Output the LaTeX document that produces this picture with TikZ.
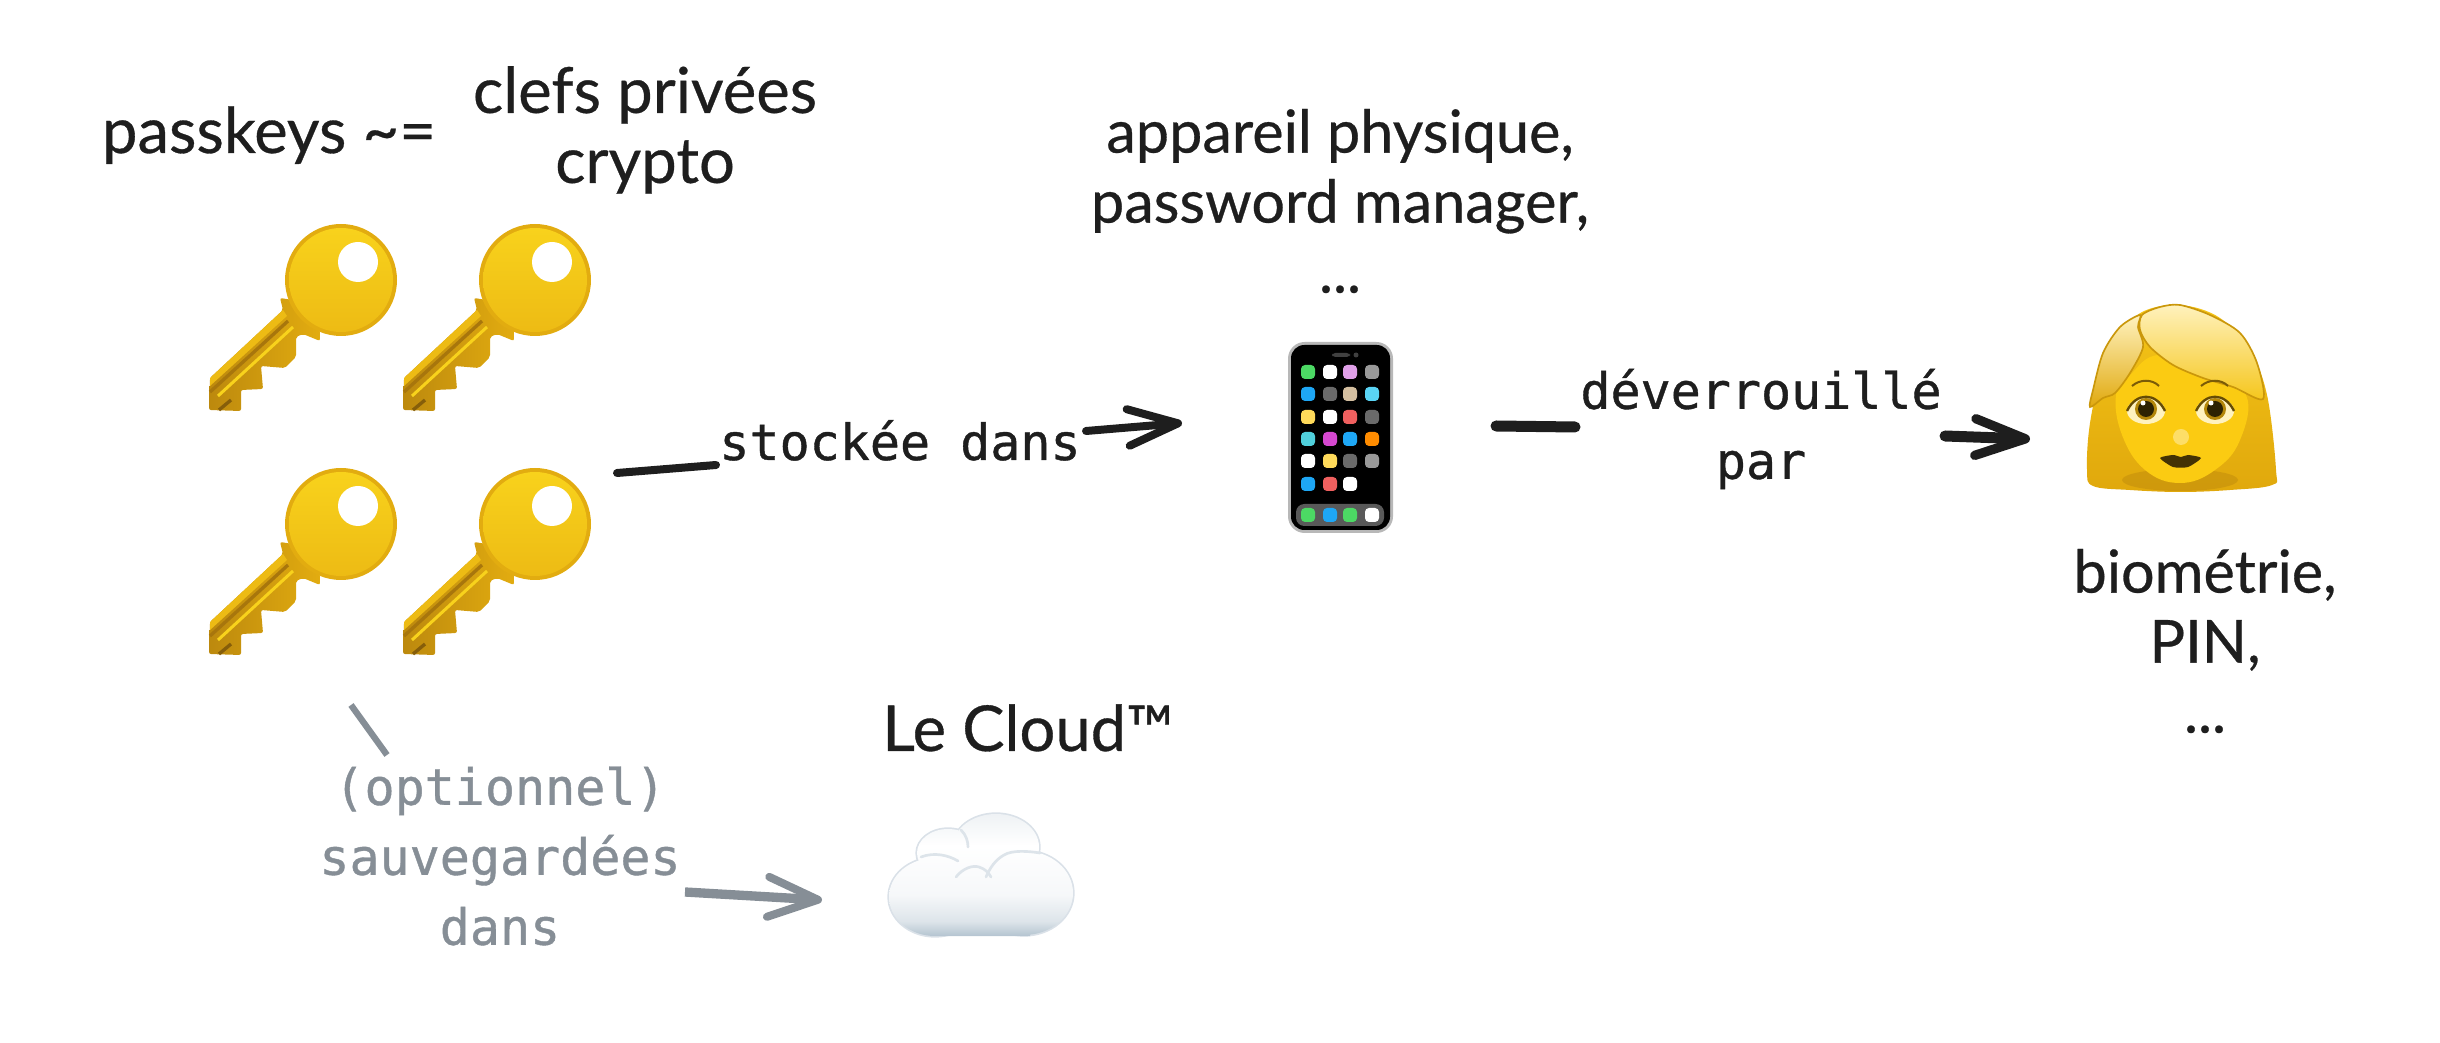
\documentclass[tikz,border=0pt]{standalone}
\usepackage{fontspec}
\usepackage{tikz}
\usetikzlibrary{arrows.meta}
\newfontfamily\handfont[FakeBold=0.5]{Lato}
\newfontfamily\codefont[FakeBold=0.8]{DejaVu Sans Mono}
\definecolor{inkblack}{HTML}{1E1E1E}
\definecolor{inkgray}{HTML}{868E96}
\definecolor{keylight}{HTML}{F8D21C}
\definecolor{keymid}{HTML}{EDBB14}
\definecolor{keyedge}{HTML}{E2AC10}
\definecolor{keydark}{HTML}{A8760C}
\definecolor{hairlight}{HTML}{FFF2BE}
\definecolor{hairmid}{HTML}{F5C518}
\definecolor{hairdark}{HTML}{E0A80C}
\definecolor{facegold}{HTML}{FBCB12}
\definecolor{cloudblue}{HTML}{B4C4D0}
\definecolor{appgreen}{HTML}{4CD964}
\definecolor{appplum}{HTML}{E0A0E8}
\definecolor{appgray}{HTML}{999999}
\definecolor{appslate}{HTML}{6A6A6A}
\definecolor{appblue}{HTML}{1EA7F5}
\definecolor{apptan}{HTML}{D4BFA0}
\definecolor{appcyan}{HTML}{5AD4F5}
\definecolor{appyellow}{HTML}{FFDA5A}
\definecolor{appred}{HTML}{F0605F}
\definecolor{appteal}{HTML}{50D0DC}
\definecolor{appmagenta}{HTML}{D648D0}
\definecolor{apporange}{HTML}{FF8C00}

\pgfdeclareverticalshading{cloudshade}{100bp}{color(0bp)=(cloudblue); color(25bp)=(cloudblue); color(31bp)=(cloudblue!45); color(42bp)=(cloudblue!12); color(62bp)=(white); color(75bp)=(cloudblue!22); color(100bp)=(cloudblue!22)}

\tikzset{
	handtext/.style={font=\handfont\fontsize{17.8}{21}\selectfont, text=inkblack, align=center, inner sep=0pt},
	handlarge/.style={handtext, font=\handfont\fontsize{19}{21}\selectfont},
	codetext/.style={font=\codefont\fontsize{15}{21}\selectfont, text=inkblack, align=center, inner sep=0pt},
	thinline/.style={draw=inkblack, line width=2.4pt, line cap=round},
	thinarrow/.style={thinline, -{Straight Barb[length=15pt, width=11pt, line width=2.4pt, round]}},
	thickline/.style={draw=inkblack, line width=3.3pt, line cap=round},
	thickarrow/.style={thickline, -{Straight Barb[length=15pt, width=11pt, line width=2.8pt, round]}},
	grayline/.style={draw=inkgray, line width=1.9pt},
	grayarrow/.style={draw=inkgray, line width=2.8pt, -{Straight Barb[length=15pt, width=12pt, line width=2.4pt, round]}},
	cloudfold/.style={draw=cloudblue!45, line width=0.8pt, line cap=round},
	hairfold/.style={draw=hairdark!90!black, line width=0.5pt}
}

\begin{document}
\begin{tikzpicture}[x=0.3pt, y=-0.3pt]
	\useasboundingbox (0,0) rectangle (2440,1043);

	% Macro for drawing a key, #1 and #2 are its top left corner.
	\newcommand{\drawkey}[2]{
		\begin{scope}[shift={(#1,#2)}]
			\shade[left color=keydark!65!keyedge, right color=keyedge, rounded corners=0.6pt] (74,86) -- (1,154) -- (0,186) -- (32,187) -- (32,166) -- (54,165) -- (52,142) -- (76,144) -- (87,133) -- (87,113) -- (94,110) -- (111,117) -- (110,80) -- (71,74) -- cycle;
			\fill[keymid] (74,86) -- (1,154) -- (1,162) -- (78,92) -- cycle;
			\draw[keydark, line width=1pt] (79,97) -- (1,168);
			\draw[keylight, line width=0.9pt] (84,103) -- (9,172);
			\draw[keydark!80!black, line width=1pt] (10,186) -- (22,176);
			\fill[keyedge] (132,56) circle (56);
			\shade[top color=keylight, bottom color=keymid] (132,56) circle (52);
			\fill[white] (149,38) circle (20);
		\end{scope}
	}

	% The four keys
	\foreach \keyx in {209,403}
		\foreach \keyy in {224,468}
			\drawkey{\keyx}{\keyy};

	% Phone
	\fill[appgray!70, rounded corners=5pt] (1288,342) rectangle (1393,533);
	\fill[black, rounded corners=4pt] (1291,345) rectangle (1390,530);
	\fill[black!75, rounded corners=1pt] (1332,353) rectangle (1350,357);
	\fill[black!75] (1356,355) circle (2.5);
	\fill[black!65, rounded corners=2.5pt] (1296,504) rectangle (1384,526);
	\foreach \appx/\appy/\appcol in {
		1308/372/appgreen, 1330/372/white, 1350/372/appplum, 1372/372/appgray,
		1308/394/appblue, 1330/394/appslate, 1350/394/apptan, 1372/394/appcyan,
		1308/417/appyellow, 1330/417/white, 1350/417/appred, 1372/417/appslate,
		1308/439/appteal, 1330/439/appmagenta, 1350/439/appblue, 1372/439/apporange,
		1308/461/white, 1330/461/appyellow, 1350/461/appslate, 1372/461/appgray,
		1308/484/appblue, 1330/484/appred, 1350/484/white,
		1308/515/appgreen, 1330/515/appblue, 1350/515/appgreen, 1372/515/white}
		\fill[\appcol, rounded corners=1.2pt] (\appx-7,\appy-7) rectangle (\appx+7,\appy+7);

	% Woman
	\begin{scope}[shift={(2060,290)}]
		\shade[top color=hairmid, bottom color=hairdark] plot[smooth cycle, tension=0.6] coordinates {(27,180) (30,133) (43,77) (62,45) (82,22) (120,15) (160,28) (190,62) (207,105) (216,180) (212,195) (170,200) (120,202) (70,200) (33,196)};
		\fill[keydark, opacity=0.3] (120,190) ellipse (58 and 11);
		\fill[facegold] plot[smooth cycle, tension=0.7] coordinates {(56,105) (70,85) (100,65) (150,85) (186,105) (180,150) (155,180) (120,193) (85,180) (62,145)};
		\shade[top color=hairlight, bottom color=hairmid, hairfold] plot[smooth cycle, tension=0.5] coordinates {(82,25) (100,17) (120,15) (150,25) (180,43) (197,73) (203,109) (173,97) (143,88) (113,75) (90,57) (80,40)};
		\shade[top color=hairlight, bottom color=hairdark, hairfold] plot[smooth cycle, tension=0.5] coordinates {(80,25) (60,37) (43,63) (33,100) (30,117) (43,108) (55,103) (70,83) (83,57) (78,37)};
		\foreach \eyex/\glintx in {86/83,155/151} {
			\fill[hairlight] (\eyex,121) ellipse (19 and 13);
			\fill[hairdark!80!black] (\eyex,119) circle (11);
			\fill[black!80!hairdark] (\eyex,119) circle (8);
			\fill[white] (\glintx,113) circle (2.5);
			\draw[black!55!hairdark, line width=0.7pt] (\eyex-19,121) .. controls (\eyex-10,102) and (\eyex+10,102) .. (\eyex+19,121);
			\draw[black!45!hairdark, line width=0.6pt] (\eyex-14,96) .. controls (\eyex-6,89) and (\eyex+6,89) .. (\eyex+13,96);
		}
		\fill[hairlight, opacity=0.5] (121,147) circle (8);
		\fill[black!70!hairdark] plot[smooth cycle, tension=0.4] coordinates {(100,168) (113,165) (121,167) (128,165) (141,168) (128,177) (113,177)};
	\end{scope}

	% Cloud
	\draw[cloudblue!50, line width=1pt]
		(935,897) ellipse (46 and 39)
		(1024,893) ellipse (49 and 42)
		(996,847) ellipse (43 and 33)
		(948,853) ellipse (31 and 24);
	\shade[shading=cloudshade]
		(935,897) ellipse (46 and 39)
		(1024,893) ellipse (49 and 42)
		(996,847) ellipse (43 and 33)
		(948,853) ellipse (31 and 24)
		(1030,870) rectangle (930,936);
	\draw[cloudfold] (961,830) .. controls (966,835) and (968,841) .. (968,847);
	\draw[cloudfold] (921,857) .. controls (934,852) and (948,855) .. (958,861);
	\draw[cloudfold] (1040,853) .. controls (1028,851) and (1012,850) .. (1004,855) .. controls (995,860) and (990,868) .. (986,877);
	\draw[cloudfold] (956,877) .. controls (963,868) and (973,865) .. (979,867) .. controls (985,869) and (988,872) .. (991,877);

	% Labels
	\node[handlarge, anchor=base] (passkeys) at (269,153) {passkeys \textasciitilde=};
	\node[handlarge] (clefs) at (645,130) {clefs privées\\crypto};
	\node[handtext] (appareil) at (1340,201) {appareil physique,\\password manager,\\...};
	\node[handtext] (biometrie) at (2205,641) {biométrie,\\PIN,\\...};
	\node[handlarge, anchor=base] (cloudname) at (1028,751) {Le Cloud™};
	\node[codetext, anchor=base] (stockee) at (900,460) {stockée dans};
	\node[codetext] (deverrouille) at (1761,429) {déverrouillé\\par};
	\node[codetext, text=inkgray] (sauvegarde) at (500,856) {(optionnel)\\sauvegardées\\dans};

	% Draw connectors
	\coordinate (stockeeA) at (617,473);
	\coordinate (stockeeB) at (716,465);
	\coordinate (stockeeC) at (1086,431);
	\coordinate (stockeeD) at (1182,423);
	\coordinate (deverA) at (1496,426);
	\coordinate (deverB) at (1575,427);
	\coordinate (deverC) at (1945,436);
	\coordinate (deverD) at (2030,439);
	\coordinate (sauveA) at (351,705);
	\coordinate (sauveB) at (387,755);
	\coordinate (sauveC) at (685,892);
	\coordinate (sauveD) at (822,900);
	\draw[thinline] (stockeeA) -- (stockeeB);
	\draw[thinarrow] (stockeeC) -- (stockeeD);
	\draw[thickline] (deverA) -- (deverB);
	\draw[thickarrow] (deverC) -- (deverD);
	\draw[grayline] (sauveA) -- (sauveB);
	\draw[grayarrow] (sauveC) -- (sauveD);
\end{tikzpicture}
\end{document}
